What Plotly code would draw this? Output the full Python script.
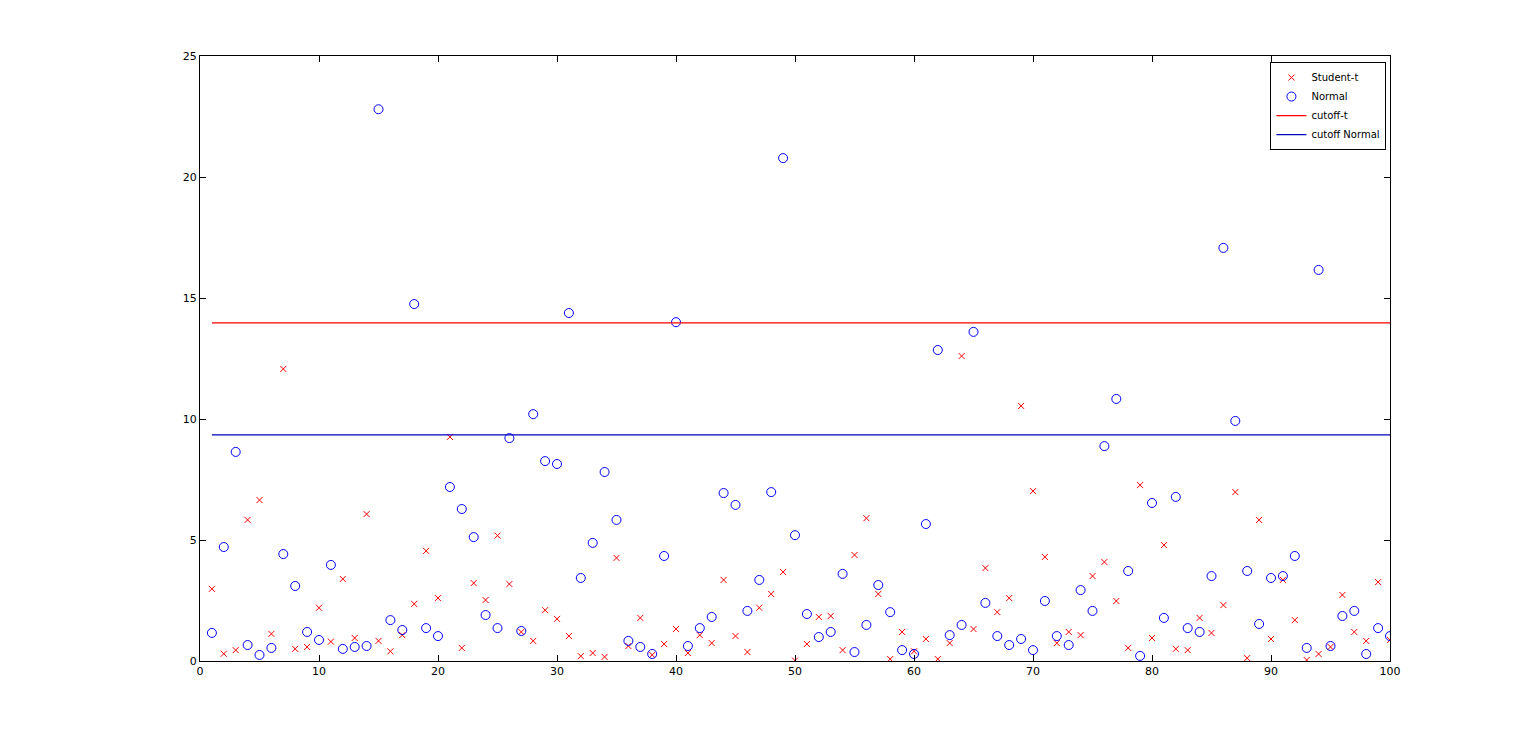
import plotly.graph_objects as go

idx = list(range(1, 101))

student_t = [
    2.98, 0.30, 0.45, 5.83, 6.65, 1.12, 12.07, 0.50, 0.58, 2.20,
    0.80, 3.39, 0.95, 6.07, 0.83, 0.40, 1.07, 2.36, 4.55, 2.60,
    9.26, 0.54, 3.22, 2.52, 5.18, 3.18, 1.20, 0.83, 2.10, 1.74,
    1.03, 0.20, 0.33, 0.17, 4.26, 0.62, 1.78, 0.25, 0.70, 1.32,
    0.33, 1.07, 0.74, 3.35, 1.03, 0.37, 2.20, 2.77, 3.68, 0.02,
    0.70, 1.82, 1.86, 0.45, 4.38, 5.90, 2.77, 0.08, 1.20, 0.40,
    0.91, 0.08, 0.74, 12.60, 1.32, 3.84, 2.02, 2.60, 10.54, 7.02,
    4.30, 0.74, 1.20, 1.07, 3.51, 4.09, 2.48, 0.54, 7.27, 0.95,
    4.79, 0.50, 0.45, 1.78, 1.16, 2.31, 6.98, 0.12, 5.83, 0.91,
    3.35, 1.69, 0.04, 0.29, 0.58, 2.73, 1.20, 0.83, 3.26, 0.87,
]

normal = [
    1.16, 4.71, 8.64, 0.66, 0.25, 0.54, 4.42, 3.10, 1.20, 0.87,
    3.97, 0.50, 0.58, 0.62, 22.80, 1.69, 1.28, 14.75, 1.36, 1.03,
    7.19, 6.28, 5.12, 1.90, 1.36, 9.21, 1.24, 10.20, 8.26, 8.14,
    14.38, 3.43, 4.88, 7.81, 5.83, 0.83, 0.58, 0.29, 4.34, 14.00,
    0.62, 1.36, 1.82, 6.94, 6.45, 2.07, 3.35, 6.98, 20.78, 5.20,
    1.94, 0.99, 1.20, 3.60, 0.37, 1.49, 3.14, 2.02, 0.45, 0.29,
    5.66, 12.85, 1.07, 1.49, 13.60, 2.40, 1.03, 0.66, 0.91, 0.45,
    2.48, 1.03, 0.66, 2.93, 2.07, 8.88, 10.83, 3.72, 0.21, 6.53,
    1.78, 6.78, 1.36, 1.20, 3.51, 17.07, 9.92, 3.72, 1.53, 3.43,
    3.51, 4.34, 0.54, 16.16, 0.62, 1.86, 2.07, 0.29, 1.36, 1.03,
]

cutoff_t = 13.97
cutoff_normal = 9.34

fig = go.Figure()

fig.add_trace(go.Scatter(
    x=idx, y=student_t, mode="markers", name="Student-t",
    marker=dict(symbol="x-thin", size=6, line=dict(color="#ff0000", width=1)),
))
fig.add_trace(go.Scatter(
    x=idx, y=normal, mode="markers", name="Normal",
    marker=dict(symbol="circle-open", size=9, color="#0000ff", line=dict(width=1)),
))
fig.add_trace(go.Scatter(
    x=[1, 100], y=[cutoff_t, cutoff_t], mode="lines", name="cutoff-t",
    line=dict(color="#ff0000", width=1.3),
))
fig.add_trace(go.Scatter(
    x=[1, 100], y=[cutoff_normal, cutoff_normal], mode="lines", name="cutoff Normal",
    line=dict(color="#0000bb", width=1.3),
))

axis_style = dict(
    showgrid=False, zeroline=False, showline=True, mirror="ticks",
    linecolor="black", linewidth=1, ticks="inside", ticklen=6,
    tickcolor="black", tickfont=dict(size=11, color="black"),
)

# the page adds an 8px body margin, so shift everything up-left by 8px
fig.update_layout(
    width=1536,
    height=744,
    plot_bgcolor="white",
    paper_bgcolor="white",
    font=dict(family="DejaVu Sans", size=11, color="black"),
    margin=dict(l=192, r=154, t=48, b=91),
    showlegend=True,
    legend=dict(
        x=0.997, y=0.99, xanchor="right", yanchor="top",
        bordercolor="black", borderwidth=1, bgcolor="white",
        font=dict(size=10), tracegroupgap=0, itemwidth=30,
    ),
)
fig.update_xaxes(range=[0, 100], dtick=10, **axis_style)
fig.update_yaxes(range=[0, 25], dtick=5, **axis_style)

fig.write_html("out.html")
